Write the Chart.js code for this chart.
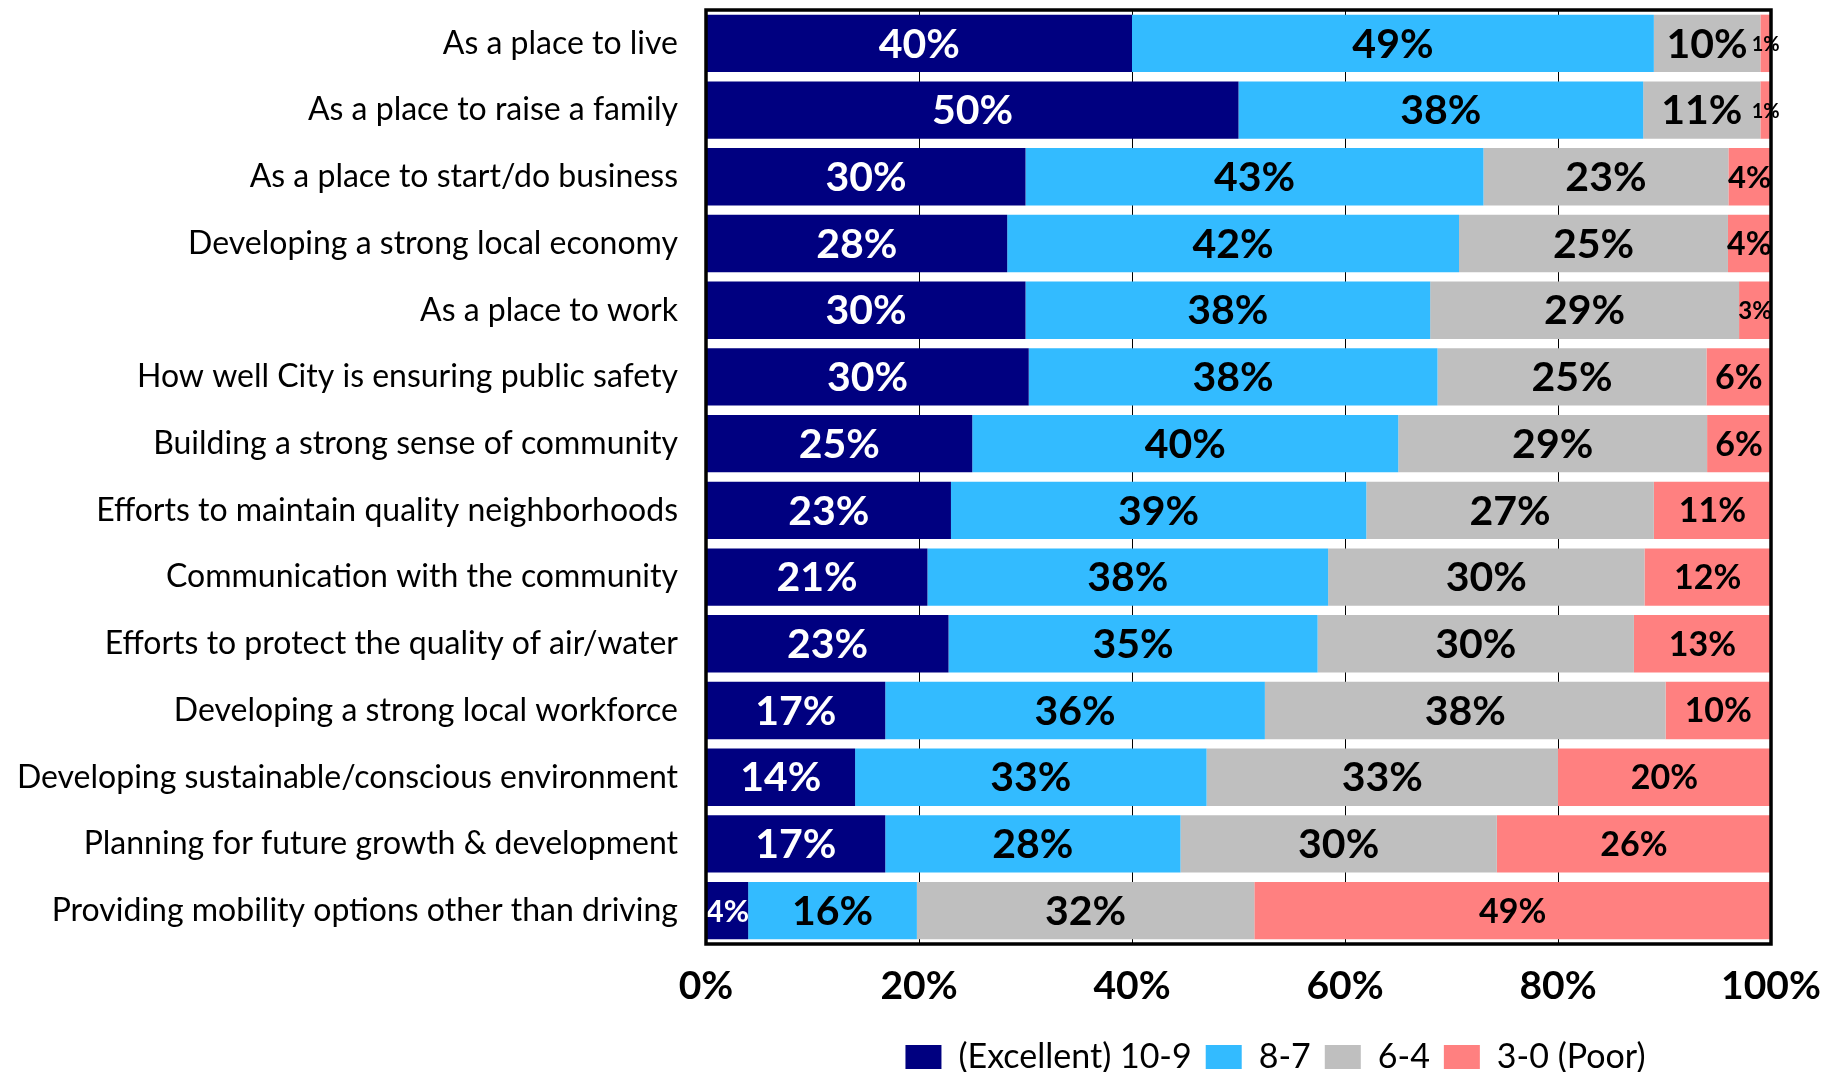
<!DOCTYPE html>
<html>
<head>
<meta charset="utf-8">
<script src="https://cdn.jsdelivr.net/npm/chart.js@4.4.1/dist/chart.umd.min.js"></script>
<style>
  html, body { margin: 0; padding: 0; background: #ffffff; }
</style>
</head>
<body>
<canvas id="ratingChart" width="1837" height="1072"></canvas>
<script>
// Categories (top to bottom)
const categories = [
    "As a place to live",
    "As a place to raise a family",
    "As a place to start/do business",
    "Developing a strong local economy",
    "As a place to work",
    "How well City is ensuring public safety",
    "Building a strong sense of community",
    "Efforts to maintain quality neighborhoods",
    "Communication with the community",
    "Efforts to protect the quality of air/water",
    "Developing a strong local workforce",
    "Developing sustainable/conscious environment",
    "Planning for future growth & development",
    "Providing mobility options other than driving",
];

// Series values (percent, as labelled)
const excellent = [40, 50, 30, 28, 30, 30, 25, 23, 21, 23, 17, 14, 17, 4];
const good      = [49, 38, 43, 42, 38, 38, 40, 39, 38, 35, 36, 33, 28, 16];
const fair      = [10, 11, 23, 25, 29, 25, 29, 27, 30, 30, 38, 33, 30, 32];
const poor      = [1, 1, 4, 4, 3, 6, 6, 11, 12, 13, 10, 20, 26, 49];

const seriesNames = ["(Excellent) 10-9", "8-7", "6-4", "3-0 (Poor)"];
const xTickValues = [0, 20, 40, 60, 80, 100];

const seriesColors = ["#000080", "#33BBFF", "#BFBFBF", "#FF8080"];
const labelColors = ["#ffffff", "#000000", "#000000", "#000000"];
const labelSizes = [41, 41, 41, 34];

// 100% stacked: each row scaled so its parts fill the bar
const rawSeries = [excellent, good, fair, poor];
const rowTotals = categories.map((c, i) => rawSeries.reduce((s, arr) => s + arr[i], 0));

// Draws the percentage inside each segment
const segmentLabels = {
    id: "segmentLabels",
    afterDatasetsDraw(chart) {
        const ctx = chart.ctx;
        ctx.save();
        ctx.textAlign = "center";
        ctx.textBaseline = "middle";
        chart.data.datasets.forEach((ds, di) => {
            const meta = chart.getDatasetMeta(di);
            meta.data.forEach((bar, i) => {
                const text = ds.rawValues[i] + "%";
                const w = Math.abs(bar.x - bar.base);
                let size = labelSizes[di];
                ctx.font = "bold " + size + "px Lato";
                let tw = ctx.measureText(text).width;
                if (tw > w + 2) {
                    size = Math.max(20, Math.floor(size * (w + 2) / tw));
                    ctx.font = "bold " + size + "px Lato";
                }
                ctx.fillStyle = labelColors[di];
                ctx.fillText(text, (bar.x + bar.base) / 2, bar.y + 1);
            });
        });
        ctx.restore();
    },
};

// Black frame round the plot area
const plotFrame = {
    id: "plotFrame",
    afterDatasetsDraw(chart) {
        const a = chart.chartArea;
        const ctx = chart.ctx;
        ctx.save();
        ctx.strokeStyle = "#000000";
        ctx.lineWidth = 3.5;
        ctx.strokeRect(a.left, a.top, a.right - a.left, a.bottom - a.top);
        ctx.restore();
    },
};

// nudge the legend to where it sits in the original
const legendShift = {
    id: "legendShift",
    afterLayout(chart) {
        const lg = chart.legend;
        lg.left += 37;
        lg.right += 37;
        lg.top += 12;
        lg.bottom += 12;
    },
};

function buildChart() {
    const ctx = document.getElementById("ratingChart").getContext("2d");
    new Chart(ctx, {
        type: "bar",
        data: {
            labels: categories,
            datasets: rawSeries.map((arr, di) => ({
                label: seriesNames[di],
                data: arr.map((v, i) => v / rowTotals[i] * 100),
                rawValues: arr,
                backgroundColor: seriesColors[di],
                borderWidth: 0,
                barPercentage: 0.86,
                categoryPercentage: 1.0,
            })),
        },
        options: {
            indexAxis: "y",
            responsive: false,
            animation: false,
            layout: { padding: { left: 0, right: 66, top: 10, bottom: 0 } },
            plugins: {
                legend: {
                    position: "bottom",
                    fullSize: false,
                    labels: {
                        color: "#000000",
                        font: { family: "Lato", size: 34 },
                        boxWidth: 36,
                        boxHeight: 24,
                        padding: 14,
                    },
                },
                tooltip: { enabled: false },
            },
            scales: {
                x: {
                    stacked: true,
                    min: 0,
                    max: 100,
                    afterBuildTicks: (scale) => {
                        scale.ticks = xTickValues.map((v) => ({ value: v }));
                    },
                    afterFit: (scale) => {
                        scale.height = 70;
                        scale.paddingLeft = 0;
                        scale.paddingRight = 0;
                    },
                    ticks: {
                        callback: (v) => v + "%",
                        color: "#000000",
                        font: { family: "Lato", size: 39, weight: "bold" },
                        padding: 19,
                        maxRotation: 0,
                    },
                    grid: { color: "#000000", lineWidth: 1, drawTicks: false },
                    border: { display: false },
                },
                y: {
                    stacked: true,
                    afterFit: (scale) => {
                        scale.width = 706;
                        scale.paddingTop = 0;
                        scale.paddingBottom = 0;
                    },
                    ticks: {
                        color: "#000000",
                        font: { family: "Lato", size: 32 },
                        padding: 0,
                        autoSkip: false,
                    },
                    grid: { display: false, drawTicks: true, tickLength: 28 },
                    border: { display: false },
                },
            },
        },
        plugins: [segmentLabels, plotFrame, legendShift],
    });
}

document.addEventListener("DOMContentLoaded", () => {
    Promise.all([
        document.fonts.load("bold 40px Lato"),
        document.fonts.load("32px Lato"),
    ]).then(buildChart, buildChart);
});
</script>
</body>
</html>
